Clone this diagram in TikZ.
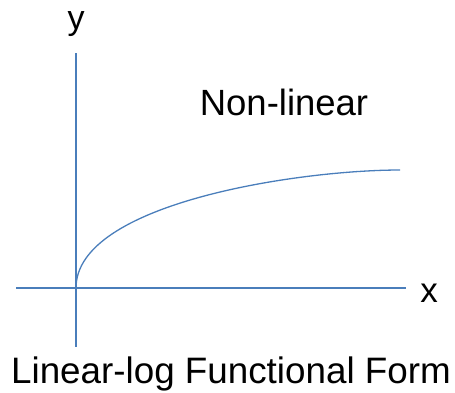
\documentclass[tikz,border=0pt]{standalone}
\usepackage{fontspec}
\setmainfont{Liberation Sans}
\definecolor{axisblue}{RGB}{74,126,187}
\begin{document}
\begin{tikzpicture}[x=1pt,y=-1pt,
  axisline/.style={draw=axisblue,line width=2pt},
  curveline/.style={draw=axisblue,line width=1.3pt},
  lbl/.style={inner sep=0pt,anchor=base,text=black}]
\useasboundingbox (0,0) rectangle (455,392);
\coordinate (O) at (76,288);
\coordinate (ytop) at (76,53);
\coordinate (ybot) at (76,347);
\coordinate (xleft) at (16,288);
\coordinate (xright) at (406,288);
\coordinate (cend) at (400,170);
\draw[axisline] (ytop) -- (ybot);
\draw[axisline] (xleft) -- (xright);
\draw[curveline] (O) .. controls (76,203) and (299,170) .. (cend);
\node[lbl,font=\fontsize{34}{34}\selectfont] (ylab) at (76,29) {y};
\node[lbl,font=\fontsize{35}{35}\selectfont] (xlab) at (429,302) {x};
\node[lbl,font=\fontsize{36.5}{36.5}\selectfont] (nl) at (284,115) {Non-linear};
\node[lbl,font=\fontsize{36.8}{36.8}\selectfont] (title) at (231,383) {Linear-log Functional Form};
\end{tikzpicture}
\end{document}
